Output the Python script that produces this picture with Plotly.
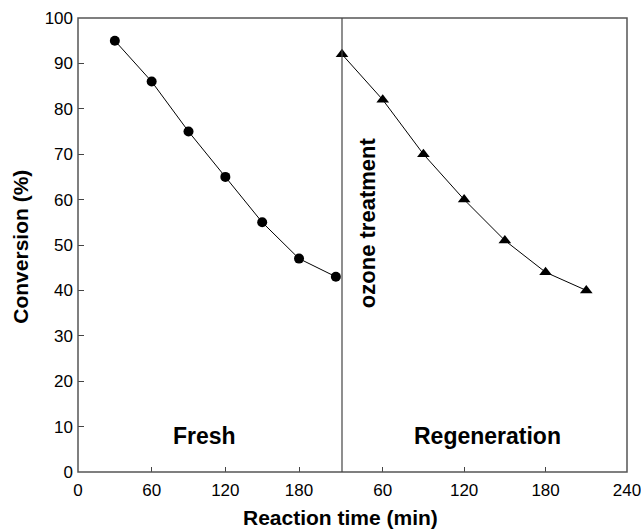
import plotly.graph_objects as go

# Catalyst conversion over time: fresh run, then after ozone regeneration
fresh_time = [30, 60, 90, 120, 150, 180, 210]
fresh_conv = [95, 86, 75, 65, 55, 47, 43]

regen_time = [30, 60, 90, 120, 150, 180, 210]
regen_conv = [92, 82, 70, 60, 51, 44, 40]

x1_ticks = [0, 60, 120, 180]
x2_ticks = [60, 120, 180, 240]
y_ticks = [0, 10, 20, 30, 40, 50, 60, 70, 80, 90, 100]

FONT = "Arial, Liberation Sans, sans-serif"
SPLIT = 264.0 / 549.0  # fraction of plot width used by the fresh-run panel

fig = go.Figure()

fig.add_trace(go.Scatter(
    x=fresh_time, y=fresh_conv, xaxis="x", yaxis="y",
    mode="lines+markers", cliponaxis=False,
    line=dict(color="black", width=1),
    marker=dict(symbol="circle", size=10, color="black"),
    showlegend=False,
))

fig.add_trace(go.Scatter(
    x=regen_time, y=regen_conv, xaxis="x2", yaxis="y",
    mode="lines+markers", cliponaxis=False,
    line=dict(color="black", width=1),
    marker=dict(symbol="triangle-up", size=11, color="black"),
    showlegend=False,
))

axis_common = dict(
    showgrid=False, zeroline=False, ticks="inside",
    tickcolor="#444", tickwidth=1, automargin=False,
    ticklabeloverflow="allow",
    tickfont=dict(family=FONT, size=17, color="black"),
    showline=False,
)

fig.update_layout(
    width=641, height=530,
    margin=dict(l=78, r=14, t=18, b=58, autoexpand=False),
    paper_bgcolor="white", plot_bgcolor="white",
    xaxis=dict(domain=[0, SPLIT], range=[0, 215], tickvals=x1_ticks,
               anchor="y", ticklen=5, ticklabelstandoff=6, **axis_common),
    xaxis2=dict(domain=[SPLIT, 1], range=[30, 240], tickvals=x2_ticks,
                anchor="y", ticklen=5, ticklabelstandoff=6, **axis_common),
    yaxis=dict(range=[0, 100], tickvals=y_ticks, anchor="x",
               ticklen=6, ticklabelstandoff=4, **axis_common),
    shapes=[
        # frame around the whole plotting area
        dict(type="rect", xref="paper", yref="paper", x0=0, x1=1, y0=0, y1=1,
             line=dict(color="#555", width=1.5)),
        # divider between fresh and regenerated runs
        dict(type="line", xref="paper", yref="paper", x0=SPLIT, x1=SPLIT, y0=0, y1=1,
             line=dict(color="#444", width=1.2)),
    ],
    annotations=[
        dict(text="<b>Conversion (%)</b>", xref="paper", yref="paper",
             x=-0.105, y=0.497, textangle=-90, showarrow=False,
             xanchor="center", yanchor="middle",
             font=dict(family=FONT, size=21, color="black")),
        dict(text="<b>Reaction time (min)</b>", xref="paper", yref="paper",
             x=0.479, y=-0.1, showarrow=False,
             xanchor="center", yanchor="middle",
             font=dict(family=FONT, size=21, color="black")),
        dict(text="<b>Fresh</b>", xref="x", yref="y", x=103, y=7.9,
             showarrow=False, xanchor="center", yanchor="middle",
             font=dict(family=FONT, size=23, color="black")),
        dict(text="<b>Regeneration</b>", xref="x2", yref="y", x=137, y=7.9,
             showarrow=False, xanchor="center", yanchor="middle",
             font=dict(family=FONT, size=23, color="black")),
        dict(text="<b>ozone treatment</b>", xref="x2", yref="y", x=48.7, y=54.9,
             textangle=-90, showarrow=False, xanchor="center", yanchor="middle",
             font=dict(family=FONT, size=22, color="black")),
    ],
)

fig.write_html("out.html")
